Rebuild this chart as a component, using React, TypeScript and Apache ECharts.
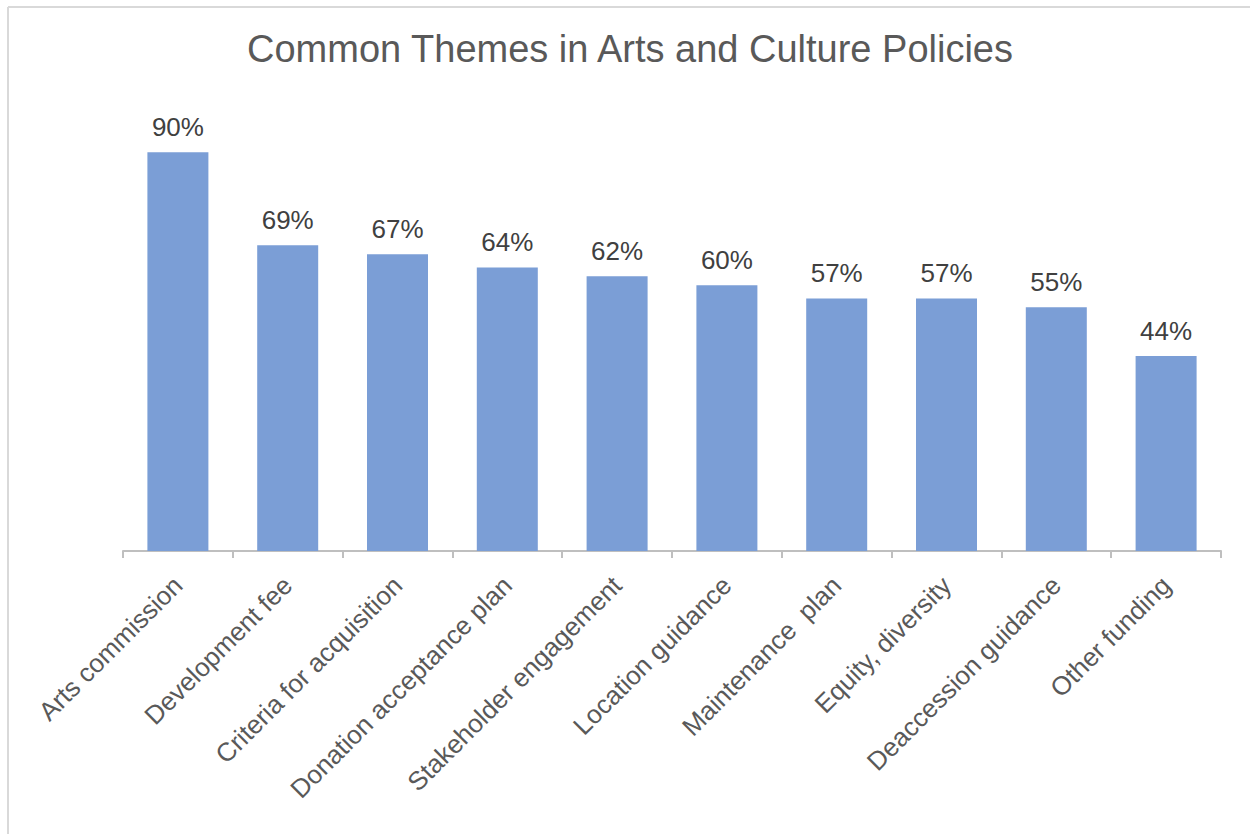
import React, { useEffect, useRef } from "react";
import * as echarts from "echarts";

const categories = [
  "Arts commission",
  "Development fee",
  "Criteria for acquisition",
  "Donation acceptance plan",
  "Stakeholder engagement",
  "Location guidance",
  "Maintenance  plan",
  "Equity, diversity",
  "Deaccession guidance",
  "Other funding",
];
const values = [90, 69, 67, 64, 62, 60, 57, 57, 55, 44];
const titleText = "Common Themes in Arts and Culture Policies";

const FONT = "'Liberation Sans', Arial, sans-serif";

export default function App() {
  const ref = useRef<HTMLDivElement>(null);
  useEffect(() => {
    if (!ref.current) return;
    const chart = echarts.init(ref.current, null, { renderer: "svg" });
    chart.setOption({
      animation: false,
      backgroundColor: "#ffffff",
      title: {
        text: titleText,
        left: 630,
        top: 30,
        padding: 0,
        textAlign: "center",
        textStyle: {
          fontFamily: FONT,
          fontSize: 38,
          fontWeight: "normal",
          color: "#595959",
          lineHeight: 38,
        },
      },
      graphic: [
        {
          type: "line",
          shape: { x1: 8, y1: 7, x2: 1250, y2: 7 },
          style: { stroke: "#d9d9d9", lineWidth: 2 },
        },
        {
          type: "line",
          shape: { x1: 8, y1: 7, x2: 8, y2: 834 },
          style: { stroke: "#d9d9d9", lineWidth: 2 },
        },
      ],
      grid: { left: 123, right: 29, top: 108, bottom: 283, containLabel: false },
      xAxis: {
        type: "category",
        data: categories,
        boundaryGap: true,
        axisLine: { show: true, lineStyle: { color: "#bfbfbf", width: 2 } },
        axisTick: { show: true, length: 7, lineStyle: { color: "#bfbfbf", width: 2 } },
        axisLabel: {
          interval: 0,
          rotate: 45,
          margin: 30,
          fontFamily: FONT,
          fontSize: 26,
          color: "#595959",
        },
      },
      yAxis: {
        type: "value",
        min: 0,
        max: 100,
        show: false,
        splitLine: { show: false },
      },
      series: [
        {
          type: "bar",
          data: values,
          barWidth: 61,
          itemStyle: { color: "#7b9ed6" },
          label: {
            show: true,
            position: "top",
            distance: 12,
            formatter: "{c}%",
            fontFamily: FONT,
            fontSize: 26,
            color: "#404040",
          },
        },
      ],
    });
    return () => chart.dispose();
  }, []);
  return (
    <div
      ref={ref}
      style={{ position: "absolute", left: 0, top: 0, width: 1250, height: 834 }}
    />
  );
}
